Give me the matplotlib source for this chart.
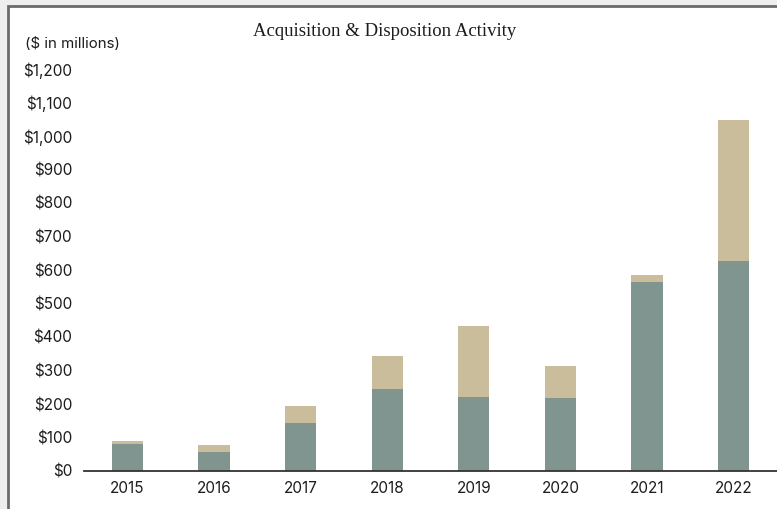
import matplotlib
matplotlib.use('Agg')
import matplotlib.pyplot as plt
from matplotlib.patches import Rectangle
import numpy as np

years = ['2015', '2016', '2017', '2018', '2019', '2020', '2021', '2022']
acquisitions = [81, 56, 142, 245, 220, 219, 564, 628]
dispositions = [10, 22, 51, 98, 213, 94, 21, 420]

gray = '#819590'
tan = '#c9bd9b'

fig = plt.figure(figsize=(7.77, 5.09), dpi=100)
fig.patch.set_facecolor('#eeeeee')

# white panel with border on top and left
panel = Rectangle((8 / 777, -0.1), 1.2, 1 + 0.1 - 6 / 509,
                  transform=fig.transFigure, facecolor='white',
                  edgecolor='#6b6b6b', linewidth=2, zorder=-10)
fig.patches.append(panel)

ax = fig.add_axes([84 / 777, 38 / 509, 693 / 777, 402 / 509])
ax.set_facecolor('none')

x = np.arange(len(years))
ax.bar(x, acquisitions, width=0.36, color=gray, zorder=2)
ax.bar(x, dispositions, width=0.36, bottom=acquisitions, color=tan, zorder=2)

ax.set_xlim(-0.5, 7.5)
ax.set_ylim(0, 1200)
ax.set_yticks(range(0, 1300, 100))
ax.set_yticklabels(['$0'] + ['${:,}'.format(v) for v in range(100, 1300, 100)])
ax.set_xticks(x)
ax.set_xticklabels(years)

for s in ['top', 'right', 'left']:
    ax.spines[s].set_visible(False)
ax.spines['bottom'].set_color('#333333')
ax.spines['bottom'].set_linewidth(1.3)
ax.tick_params(length=0, labelsize=11, colors='#1c1c1c')
ax.tick_params(axis='y', pad=8.5)
ax.tick_params(axis='x', pad=7)
for lab in ax.get_xticklabels() + ax.get_yticklabels():
    lab.set_family('Inter')

fig.text(385 / 777, 1 - 31 / 509, 'Acquisition & Disposition Activity',
         ha='center', va='center', family='Liberation Serif', fontsize=13.5,
         color='#1c1c1c')
fig.text(25 / 777, 1 - 44 / 509, '($ in millions)', ha='left', va='center',
         family='Inter', fontsize=10.8, color='#1c1c1c')

fig.savefig('out.png', dpi=100, facecolor=fig.get_facecolor())
